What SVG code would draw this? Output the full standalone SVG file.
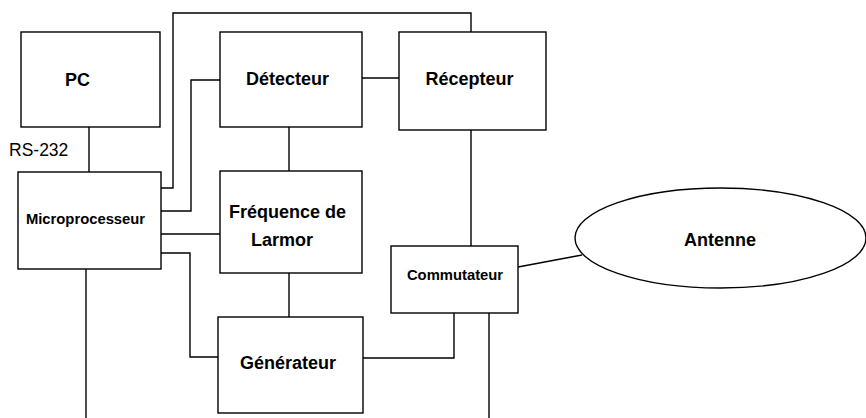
<svg xmlns="http://www.w3.org/2000/svg" width="866" height="418" viewBox="0 0 866 418">
<style>
.b{fill:#fff;stroke:#000;stroke-width:1.4}
.c{fill:none;stroke:#000;stroke-width:1.4}
.t{font-family:"Liberation Sans",Arial,sans-serif;font-weight:bold;font-size:18px;text-anchor:middle;fill:#000}
.s{font-size:14.8px}
</style>
<rect width="866" height="418" fill="#fff"/>
<g id="connectors">
<polyline class="c" points="89,127 89,172"/>
<polyline class="c" points="161,188 173,188 173,13 471,13 471,32"/>
<polyline class="c" points="161,211 191,211 191,80 220,80"/>
<polyline class="c" points="159,234 220,234"/>
<polyline class="c" points="161,253 190,253 190,357 218,357"/>
<polyline class="c" points="86,269 86,418"/>
<polyline class="c" points="362,78 399,78"/>
<polyline class="c" points="289,127 289,171"/>
<polyline class="c" points="289,273 289,317"/>
<polyline class="c" points="471,130 471,248"/>
<polyline class="c" points="363,358 454,358 454,311"/>
<polyline class="c" points="489,311 489,418"/>
<polyline class="c" points="518,267 582,255"/>
<text x="9" y="156" font-family="'Liberation Sans',Arial,sans-serif" font-size="17.5" fill="#000">RS-232</text>
</g>
<g id="pc"><rect class="b" x="21" y="32" width="139" height="95"/><text class="t" x="77.5" y="86">PC</text></g>
<g id="micro"><rect class="b" x="18" y="172" width="143" height="97"/><text class="t s" x="85.5" y="224">Microprocesseur</text></g>
<g id="detecteur"><rect class="b" x="220" y="32" width="142" height="95"/><text class="t" x="287.5" y="85">Détecteur</text></g>
<g id="recepteur"><rect class="b" x="399" y="32" width="147" height="98"/><text class="t" x="469.5" y="85">Récepteur</text></g>
<g id="frequence"><rect class="b" x="220" y="171" width="142" height="102"/><text class="t" x="287.5" y="218">Fréquence de</text><text class="t" x="282" y="246">Larmor</text></g>
<g id="generateur"><rect class="b" x="218" y="317" width="145" height="96"/><text class="t" x="288" y="369">Générateur</text></g>
<g id="commutateur"><rect class="b" x="391" y="246" width="127" height="67"/><text class="t s" x="455" y="280">Commutateur</text></g>
<g id="antenne"><ellipse class="b" cx="720.5" cy="238" rx="145.5" ry="50"/><text class="t" x="720" y="246">Antenne</text></g>
</svg>
